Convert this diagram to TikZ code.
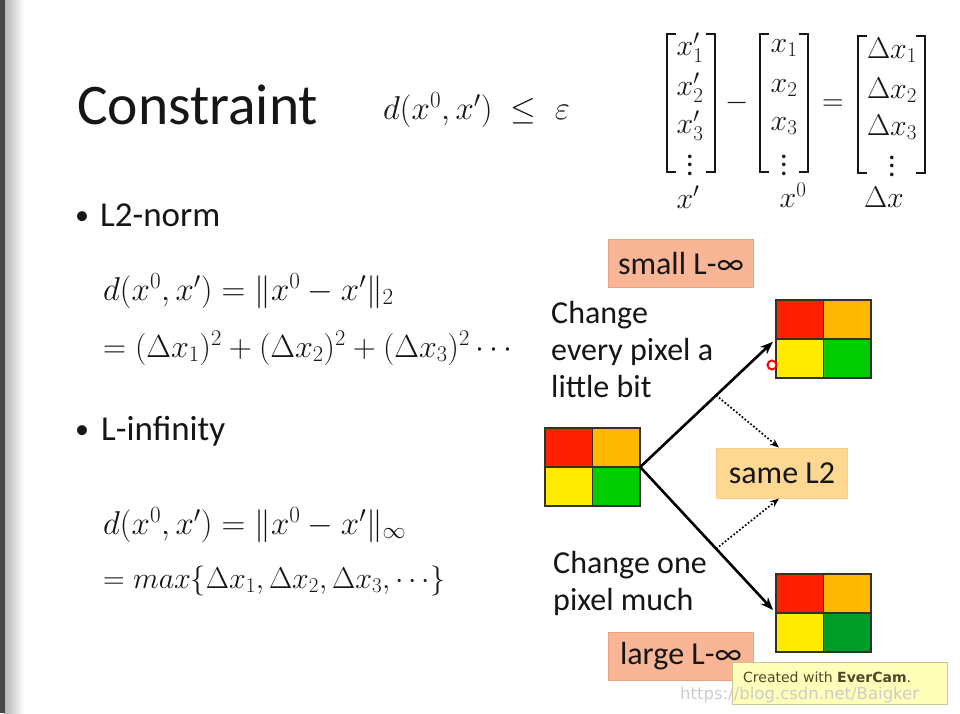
\RequirePackage{fix-cm}
\documentclass[tikz,border=0pt]{standalone}
\usepackage{fontspec}
\setmainfont{Carlito}
\newfontfamily\wmfont{DejaVu Sans}
\usetikzlibrary{arrows.meta,calc}
\definecolor{textc}{RGB}{22,22,22}
\definecolor{salmonfill}{RGB}{248,182,150}
\definecolor{salmondraw}{RGB}{238,160,128}
\definecolor{peachfill}{RGB}{253,216,146}
\definecolor{peachdraw}{RGB}{248,204,130}
\definecolor{cellred}{RGB}{252,32,0}
\definecolor{cellorange}{RGB}{255,184,0}
\definecolor{cellyellow}{RGB}{255,236,0}
\definecolor{cellgreen}{RGB}{0,204,0}
\definecolor{celldkgreen}{RGB}{0,156,40}
\definecolor{gridline}{RGB}{50,50,40}
\definecolor{wmfill}{RGB}{255,255,185}
\definecolor{wmdraw}{RGB}{200,200,150}
\definecolor{wmtext}{RGB}{80,72,40}
\newcommand{\tallvdots}{\vbox{\baselineskip=8.5pt\lineskiplimit=0pt\hbox{.}\hbox{.}\hbox{.}}}
\newcommand{\pixgrid}[2]{%
  \fill[cellred] (#1.north west) rectangle (#1.center);
  \fill[cellorange] (#1.north) rectangle (#1.east);
  \fill[cellyellow] (#1.west) rectangle (#1.south);
  \fill[#2] (#1.center) rectangle (#1.south east);
  \draw[gridline, line width=1.8pt] (#1.north west) rectangle (#1.south east)
     (#1.north) -- (#1.south) (#1.west) -- (#1.east);}
\begin{document}
\begin{tikzpicture}[x=1pt,y=-1pt,
  txt/.style={anchor=base west, inner sep=0pt, text=textc},
  bigfont/.style={font=\fontsize{32}{37}\selectfont},
  gridbox/.style={minimum width=95pt, minimum height=78pt, inner sep=0pt},
  tagbox/.style={inner sep=0pt, text=textc, font=\fontsize{32}{37}\selectfont, line width=1pt},
  bigarrow/.style={-{Stealth[length=13pt,width=10pt]}, line width=2.6pt, black},
  dotarrow/.style={-{Stealth[length=9pt,width=7pt]}, line width=1.7pt, dotted, black},
  bracket/.style={line width=2.4pt, textc}]
\useasboundingbox (0,0) rectangle (960,713);
\fill[white] (0,0) rectangle (960,713);
\shade[left color=black!30, right color=white] (4,0) rectangle (24,713);
\fill[black!72] (0,0) rectangle (5,713);

% title
\node[txt, font=\fontsize{57.5}{62}\selectfont] (title) at (77,124) {Constraint};
\node[txt, font=\fontsize{33}{38}\selectfont] (cons) at (383,119) {$d(x^0,x')\;\le\;\varepsilon$};

% matrices
\begin{scope}[every node/.style={inner sep=0pt, text=textc, font=\fontsize{30}{34}\selectfont}]
\node (a1) at (690,48) {$x_1'$};
\node (a2) at (690,88) {$x_2'$};
\node (a3) at (690,126) {$x_3'$};
\node (a4) at (690,165) {\tallvdots};
\node (b1) at (784,48) {$x_1$};
\node (b2) at (784,88) {$x_2$};
\node (b3) at (784,126) {$x_3$};
\node (b4) at (784,165) {\tallvdots};
\node (c1) at (892,50) {$\Delta x_1$};
\node (c2) at (892,90) {$\Delta x_2$};
\node (c3) at (892,127) {$\Delta x_3$};
\node (c4) at (892,166) {\tallvdots};
\node (minus) at (737,103) {$-$};
\node (eq) at (833,105) {$=$};
\node (la) at (688,197) {$x'$};
\node (lb) at (793,195) {$x^0$};
\node (lc) at (884,197) {$\Delta x$};
\end{scope}
\draw[bracket] (676,34) -- (667,34) -- (667,172) -- (676,172);
\draw[bracket] (706,34) -- (715,34) -- (715,172) -- (706,172);
\draw[bracket] (769,34) -- (760,34) -- (760,172) -- (769,172);
\draw[bracket] (799,34) -- (808,34) -- (808,172) -- (799,172);
\draw[bracket] (867,36) -- (858,36) -- (858,173) -- (867,173);
\draw[bracket] (916,36) -- (925,36) -- (925,173) -- (916,173);

% bullets
\node[txt, font=\fontsize{28}{40}\selectfont] (bul1) at (75,224) {•};
\node[txt, font=\fontsize{35}{40}\selectfont] (l2) at (100,226) {L2-norm};
\node[txt, font=\fontsize{28}{40}\selectfont] (bul2) at (75,438) {•};
\node[txt, font=\fontsize{35}{40}\selectfont] (linf) at (101,440) {L-infinity};

% formulas
\node[txt, font=\fontsize{33}{38}\selectfont] (f1) at (103,300) {$d(x^0,x') = \|x^0-x'\|_2$};
\node[txt, font=\fontsize{32}{37}\selectfont] (f2) at (103,357) {$=(\Delta x_1)^2+(\Delta x_2)^2+(\Delta x_3)^2\cdots$};
\node[txt, font=\fontsize{33}{38}\selectfont] (f3) at (103,534) {$d(x^0,x') = \|x^0-x'\|_\infty$};
\node[txt, font=\fontsize{30}{35}\selectfont] (f4) at (103,588) {$=max\{\Delta x_1,\Delta x_2,\Delta x_3,\cdots\}$};

% right side text
\node[txt, bigfont] (ch1) at (551,323) {Change};
\node[txt, bigfont] (ch2) at (551,360) {every pixel a};
\node[txt, bigfont] (ch3) at (551,397) {little bit};
\node[txt, bigfont] (ch4) at (553,573) {Change one};
\node[txt, bigfont] (ch5) at (553,610) {pixel much};

% tags
\node[tagbox, fill=salmonfill, draw=salmondraw, minimum width=145pt, minimum height=48pt] (small) at (681,263) {small L-∞};
\node[tagbox, fill=peachfill, draw=peachdraw, minimum width=131pt, minimum height=50pt] (L2) at (782,473) {same L2};
\node[tagbox, fill=salmonfill, draw=salmondraw, minimum width=145pt, minimum height=48pt] (large) at (681,656) {large L-∞};

% grids
\node[gridbox] (g1) at (823.5,339) {};
\node[gridbox] (g0) at (592.5,467) {};
\node[gridbox] (g2) at (823.5,613) {};
\pixgrid{g1}{cellgreen}
\pixgrid{g0}{cellgreen}
\pixgrid{g2}{celldkgreen}

% arrows
\draw[bigarrow, shorten >=4pt] (g0.east) -- (g1.west);
\draw[bigarrow, shorten >=4pt] (g0.east) -- (g2.west);
\coordinate (m1) at ($(g0.east)!0.56!(g1.west)$);
\coordinate (m2) at ($(g0.east)!0.56!(g2.west)$);
\coordinate (t1) at ($(L2.north west)+(63,0)$);
\coordinate (t2) at ($(L2.south west)+(63,0)$);
\draw[dotarrow] (m1) -- (t1);
\draw[dotarrow] (m2) -- (t2);

% cursor mark
\node[circle, draw=red, line width=2pt, minimum size=9pt, inner sep=0pt, fill=white] (cursor) at (772,365) {};

% watermark
\node[anchor=north west, fill=wmfill, draw=wmdraw, line width=1pt, minimum width=215pt, minimum height=42pt, inner sep=0pt] (wm) at (732,662) {};
\node[txt, text=wmtext, font=\wmfont\fontsize{14}{16}\selectfont] (wm1) at (743,682) {Created with \textbf{EverCam}.};
\node[txt, text=black!20, font=\wmfont\fontsize{16.5}{18}\selectfont] (wm2) at (680,699) {https://blog.csdn.net/Baigker};
\end{tikzpicture}
\end{document}
